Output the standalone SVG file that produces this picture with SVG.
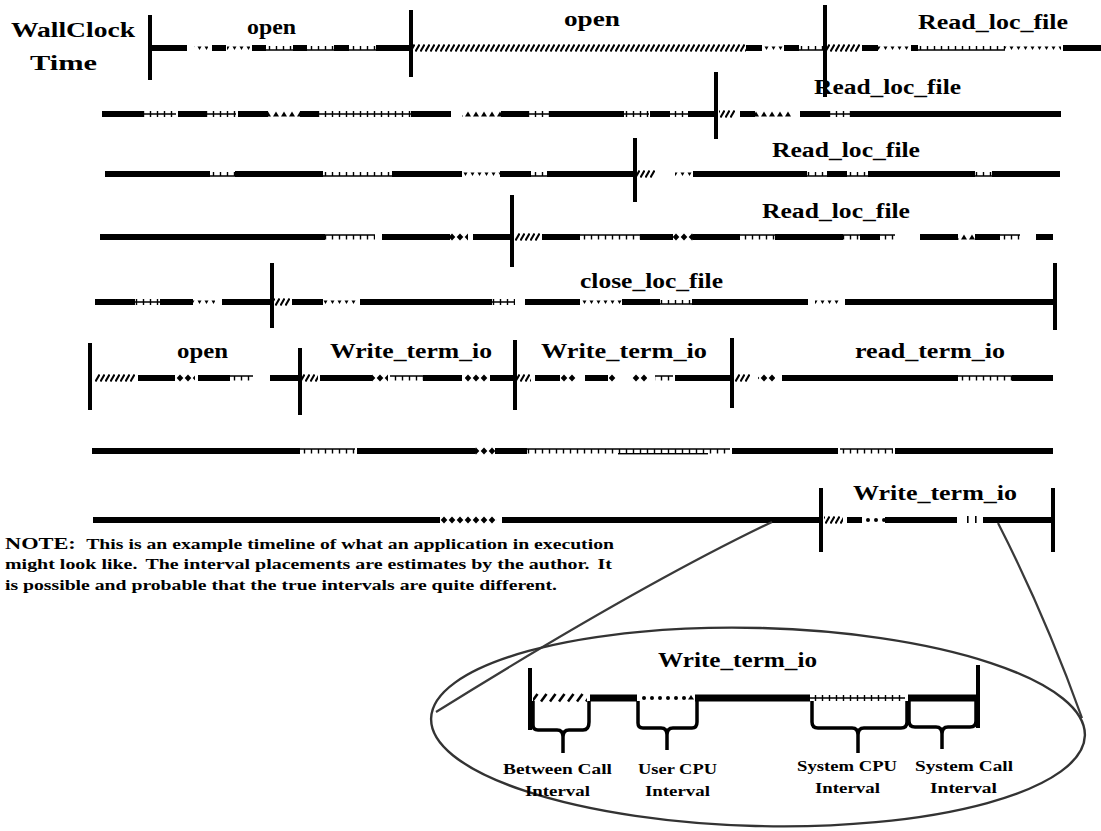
<svg xmlns="http://www.w3.org/2000/svg" width="1101" height="831" viewBox="0 0 1101 831">
<style>
.lab{font-family:"Liberation Serif","Times New Roman",serif;font-weight:bold;font-size:20px;fill:#000}
.sm{font-family:"Liberation Serif","Times New Roman",serif;font-weight:bold;font-size:15px;fill:#000}
.k,.b{fill:#000}
.h{fill:url(#ph)}.H{fill:url(#pH)}.p{fill:url(#pp)}.u{fill:url(#pu)}.T{fill:url(#pT)}
.d{fill:url(#pd)}.m{fill:url(#pm)}.t{fill:url(#pt)}.c{fill:url(#pc)}
.brace{fill:none;stroke:#000;stroke-width:3.5;stroke-linejoin:round}
.conn{fill:none;stroke:#3a3a3a;stroke-width:2.2}
</style>
<defs>
<pattern id="ph" patternUnits="userSpaceOnUse" x="0" y="-6" width="5" height="12"><path d="M0.5,9.5L4.5,2.5" stroke="#000" stroke-width="2"/></pattern>
<pattern id="pH" patternUnits="userSpaceOnUse" x="0" y="-6" width="9" height="12"><path d="M1,9.5L6.5,2" stroke="#000" stroke-width="2.6"/></pattern>
<pattern id="pp" patternUnits="userSpaceOnUse" x="0" y="-6" width="7" height="12"><path d="M0,6H7M3.5,3V9" stroke="#000" stroke-width="1.4"/></pattern>
<pattern id="pu" patternUnits="userSpaceOnUse" x="0" y="-6" width="7" height="12"><path d="M0,8H7M3.5,4V8" stroke="#000" stroke-width="1.4"/></pattern>
<pattern id="pT" patternUnits="userSpaceOnUse" x="0" y="-6" width="7" height="12"><path d="M0,4H7M3.5,4V8.5" stroke="#000" stroke-width="1.4"/></pattern>
<pattern id="pd" patternUnits="userSpaceOnUse" x="0" y="-6" width="7" height="12"><path d="M1.5,4.5H5.5L3.5,8Z" fill="#000"/></pattern>
<pattern id="pm" patternUnits="userSpaceOnUse" x="0" y="-6" width="8" height="12"><path d="M4,2.5L7.3,6L4,9.5L0.7,6Z" fill="#000"/></pattern>
<pattern id="pt" patternUnits="userSpaceOnUse" x="0" y="-6" width="8" height="12"><path d="M1,8.5H7L4,3.5Z" fill="#000"/></pattern>
<pattern id="pc" patternUnits="userSpaceOnUse" x="0" y="-6" width="8" height="12"><circle cx="4" cy="6" r="2" fill="#000"/></pattern>
</defs>

<g id="axis-label">
<text class="lab" x="11" y="37" textLength="124" lengthAdjust="spacingAndGlyphs">WallClock</text>
<text class="lab" x="30" y="70" textLength="67" lengthAdjust="spacingAndGlyphs">Time</text>
</g>

<g id="row1">
<g transform="translate(0,48)">
<rect class="b" x="148" y="-33" width="4" height="65"/>
<rect class="b" x="409" y="-38" width="4" height="67"/>
<rect class="b" x="823" y="-43" width="4" height="92"/>
<rect class="k" x="152" y="-3" width="35" height="6"/>
<rect class="d" x="194" y="-6" width="14" height="12"/>
<rect class="k" x="212" y="-3" width="14" height="6"/>
<rect class="d" x="227" y="-6" width="23" height="12"/>
<rect class="k" x="252" y="-3" width="14" height="6"/>
<rect class="u" x="266" y="-6" width="27" height="12"/>
<rect class="k" x="293" y="-3" width="14" height="6"/>
<rect class="u" x="307" y="-6" width="27" height="12"/>
<rect class="k" x="334" y="-3" width="15" height="6"/>
<rect class="u" x="349" y="-6" width="27" height="12"/>
<rect class="k" x="376" y="-3" width="33" height="6"/>
<rect class="h" x="413" y="-6" width="333" height="12"/>
<rect class="k" x="746" y="-3" width="16" height="6"/>
<rect class="d" x="762" y="-6" width="21" height="12"/>
<rect class="k" x="784" y="-3" width="15" height="6"/>
<rect class="u" x="799" y="-6" width="24" height="12"/>
<rect class="h" x="827" y="-6" width="33" height="12"/>
<rect class="k" x="862" y="-3" width="16" height="6"/>
<rect class="d" x="878" y="-6" width="32" height="12"/>
<rect class="k" x="911" y="-3" width="7" height="6"/>
<rect class="u" x="918" y="-6" width="87" height="12"/>
<rect class="d" x="1005" y="-6" width="56" height="12"/>
<rect class="k" x="1063" y="-3" width="38" height="6"/>
</g>
<text class="lab" x="247" y="34" textLength="49" lengthAdjust="spacingAndGlyphs">open</text>
<text class="lab" x="564" y="26" textLength="56" lengthAdjust="spacingAndGlyphs">open</text>
<text class="lab" x="918" y="29" textLength="150" lengthAdjust="spacingAndGlyphs">Read_loc_file</text>
</g>

<g id="row2">
<g transform="translate(0,114)">
<rect class="k" x="102" y="-3" width="41" height="6"/>
<rect class="p" x="143" y="-6" width="33" height="12"/>
<rect class="k" x="178" y="-3" width="28" height="6"/>
<rect class="p" x="206" y="-6" width="30" height="12"/>
<rect class="k" x="238" y="-3" width="30" height="6"/>
<rect class="t" x="268" y="-6" width="32" height="12"/>
<rect class="k" x="300" y="-3" width="19" height="6"/>
<rect class="p" x="319" y="-6" width="92" height="12"/>
<rect class="k" x="411" y="-3" width="40" height="6"/>
<rect class="t" x="462" y="-6" width="39" height="12"/>
<rect class="k" x="501" y="-3" width="28" height="6"/>
<rect class="p" x="529" y="-6" width="21" height="12"/>
<rect class="k" x="550" y="-3" width="74" height="6"/>
<rect class="p" x="624" y="-6" width="25" height="12"/>
<rect class="k" x="650" y="-3" width="20" height="6"/>
<rect class="p" x="670" y="-6" width="18" height="12"/>
<rect class="k" x="688" y="-3" width="26" height="6"/>
<rect class="b" x="714" y="-42" width="4" height="67"/>
<rect class="h" x="719" y="-6" width="16" height="12"/>
<rect class="k" x="740" y="-3" width="15" height="6"/>
<rect class="t" x="755" y="-6" width="38" height="12"/>
<rect class="k" x="800" y="-3" width="29" height="6"/>
<rect class="p" x="829" y="-6" width="21" height="12"/>
<rect class="k" x="850" y="-3" width="211" height="6"/>
</g>
<text class="lab" x="814" y="94" textLength="147" lengthAdjust="spacingAndGlyphs">Read_loc_file</text>
</g>

<g id="row3">
<g transform="translate(0,174)">
<rect class="k" x="105" y="-3" width="105" height="6"/>
<rect class="u" x="210" y="-6" width="25" height="12"/>
<rect class="k" x="235" y="-3" width="88" height="6"/>
<rect class="u" x="323" y="-6" width="69" height="12"/>
<rect class="k" x="392" y="-3" width="70" height="6"/>
<rect class="d" x="462" y="-6" width="38" height="12"/>
<rect class="k" x="500" y="-3" width="31" height="6"/>
<rect class="u" x="531" y="-6" width="16" height="12"/>
<rect class="k" x="547" y="-3" width="86" height="6"/>
<rect class="b" x="633" y="-36" width="4" height="64"/>
<rect class="h" x="637" y="-6" width="18" height="12"/>
<rect class="d" x="675" y="-6" width="18" height="12"/>
<rect class="k" x="693" y="-3" width="114" height="6"/>
<rect class="u" x="807" y="-6" width="20" height="12"/>
<rect class="k" x="827" y="-3" width="20" height="6"/>
<rect class="u" x="847" y="-6" width="21" height="12"/>
<rect class="k" x="868" y="-3" width="107" height="6"/>
<rect class="u" x="975" y="-6" width="17" height="12"/>
<rect class="k" x="992" y="-3" width="68" height="6"/>
</g>
<text class="lab" x="772" y="157" textLength="148" lengthAdjust="spacingAndGlyphs">Read_loc_file</text>
</g>

<g id="row4">
<g transform="translate(0,237)">
<rect class="k" x="100" y="-3" width="225" height="6"/>
<rect class="T" x="325" y="-6" width="50" height="12"/>
<rect class="k" x="382" y="-3" width="68" height="6"/>
<rect class="m" x="450" y="-6" width="18" height="12"/>
<rect class="k" x="473" y="-3" width="37" height="6"/>
<rect class="b" x="510" y="-42" width="4" height="72"/>
<rect class="h" x="515" y="-6" width="25" height="12"/>
<rect class="k" x="542" y="-3" width="38" height="6"/>
<rect class="T" x="580" y="-6" width="60" height="12"/>
<rect class="k" x="640" y="-3" width="33" height="6"/>
<rect class="m" x="673" y="-6" width="20" height="12"/>
<rect class="k" x="693" y="-3" width="47" height="6"/>
<rect class="T" x="740" y="-6" width="35" height="12"/>
<rect class="k" x="775" y="-3" width="68" height="6"/>
<rect class="T" x="843" y="-6" width="17" height="12"/>
<rect class="k" x="860" y="-3" width="20" height="6"/>
<rect class="T" x="880" y="-6" width="15" height="12"/>
<rect class="k" x="920" y="-3" width="38" height="6"/>
<rect class="t" x="958" y="-6" width="17" height="12"/>
<rect class="k" x="975" y="-3" width="25" height="6"/>
<rect class="T" x="1000" y="-6" width="20" height="12"/>
<rect class="k" x="1036" y="-3" width="17" height="6"/>
</g>
<text class="lab" x="762" y="218" textLength="148" lengthAdjust="spacingAndGlyphs">Read_loc_file</text>
</g>

<g id="row5">
<g transform="translate(0,302)">
<rect class="k" x="95" y="-3" width="40" height="6"/>
<rect class="p" x="135" y="-6" width="25" height="12"/>
<rect class="k" x="160" y="-3" width="33" height="6"/>
<rect class="d" x="193" y="-6" width="22" height="12"/>
<rect class="k" x="222" y="-3" width="48" height="6"/>
<rect class="b" x="270" y="-39" width="4" height="65"/>
<rect class="h" x="274" y="-6" width="16" height="12"/>
<rect class="k" x="292" y="-3" width="31" height="6"/>
<rect class="d" x="323" y="-6" width="34" height="12"/>
<rect class="k" x="360" y="-3" width="132" height="6"/>
<rect class="p" x="492" y="-6" width="23" height="12"/>
<rect class="k" x="525" y="-3" width="55" height="6"/>
<rect class="d" x="580" y="-6" width="42" height="12"/>
<rect class="k" x="622" y="-3" width="38" height="6"/>
<rect class="u" x="660" y="-6" width="32" height="12"/>
<rect class="k" x="692" y="-3" width="116" height="6"/>
<rect class="d" x="815" y="-6" width="25" height="12"/>
<rect class="k" x="845" y="-3" width="208" height="6"/>
<rect class="b" x="1053" y="-39" width="4" height="67"/>
</g>
<text class="lab" x="580" y="288" textLength="143" lengthAdjust="spacingAndGlyphs">close_loc_file</text>
</g>

<g id="row6">
<g transform="translate(0,378)">
<rect class="b" x="88" y="-35" width="4" height="67"/>
<rect class="h" x="95" y="-6" width="40" height="12"/>
<rect class="k" x="138" y="-3" width="37" height="6"/>
<rect class="m" x="175" y="-6" width="20" height="12"/>
<rect class="k" x="198" y="-3" width="32" height="6"/>
<rect class="T" x="230" y="-6" width="23" height="12"/>
<rect class="k" x="270" y="-3" width="28" height="6"/>
<rect class="b" x="298" y="-30" width="4" height="67"/>
<rect class="h" x="302" y="-6" width="16" height="12"/>
<rect class="k" x="320" y="-3" width="52" height="6"/>
<rect class="m" x="372" y="-6" width="16" height="12"/>
<rect class="T" x="390" y="-6" width="33" height="12"/>
<rect class="k" x="423" y="-3" width="39" height="6"/>
<rect class="m" x="465" y="-6" width="23" height="12"/>
<rect class="k" x="490" y="-3" width="23" height="6"/>
<rect class="b" x="513" y="-38" width="4" height="70"/>
<rect class="h" x="517" y="-6" width="14" height="12"/>
<rect class="k" x="535" y="-3" width="25" height="6"/>
<rect class="m" x="560" y="-6" width="16" height="12"/>
<rect class="k" x="585" y="-3" width="23" height="6"/>
<rect class="m" x="609" y="-6" width="7" height="12"/>
<rect class="m" x="632" y="-6" width="15" height="12"/>
<rect class="T" x="655" y="-6" width="18" height="12"/>
<rect class="k" x="675" y="-3" width="55" height="6"/>
<rect class="b" x="730" y="-40" width="4" height="70"/>
<rect class="h" x="735" y="-6" width="15" height="12"/>
<rect class="m" x="758" y="-6" width="17" height="12"/>
<rect class="k" x="782" y="-3" width="176" height="6"/>
<rect class="T" x="958" y="-6" width="54" height="12"/>
<rect class="k" x="1012" y="-3" width="41" height="6"/>
</g>
<text class="lab" x="177" y="358" textLength="51" lengthAdjust="spacingAndGlyphs">open</text>
<text class="lab" x="330" y="358" textLength="162" lengthAdjust="spacingAndGlyphs">Write_term_io</text>
<text class="lab" x="541" y="358" textLength="166" lengthAdjust="spacingAndGlyphs">Write_term_io</text>
<text class="lab" x="855" y="358" textLength="150" lengthAdjust="spacingAndGlyphs">read_term_io</text>
</g>

<g id="row7">
<g transform="translate(0,451)">
<rect class="k" x="92" y="-3" width="208" height="6"/>
<rect class="T" x="300" y="-6" width="55" height="12"/>
<rect class="k" x="357" y="-3" width="118" height="6"/>
<rect class="m" x="475" y="-6" width="20" height="12"/>
<rect class="k" x="495" y="-3" width="32" height="6"/>
<rect class="T" x="527" y="-6" width="91" height="12"/>
<rect class="T" x="618" y="-6" width="90" height="12"/>
<rect class="k" x="618" y="2" width="90" height="1.4"/>
<rect class="T" x="708" y="-6" width="22" height="12"/>
<rect class="k" x="732" y="-3" width="106" height="6"/>
<rect class="T" x="840" y="-6" width="53" height="12"/>
<rect class="k" x="895" y="-3" width="158" height="6"/>
</g>
</g>

<g id="row8">
<g transform="translate(0,520)">
<rect class="k" x="93" y="-3" width="347" height="6"/>
<rect class="m" x="440" y="-6" width="57" height="12"/>
<rect class="k" x="502" y="-3" width="317" height="6"/>
<rect class="b" x="819" y="-32" width="4" height="64"/>
<rect class="h" x="824" y="-6" width="19" height="12"/>
<rect class="k" x="847" y="-3" width="15" height="6"/>
<rect class="c" x="862" y="-6" width="23" height="12"/>
<rect class="k" x="885" y="-3" width="72" height="6"/>
<rect class="k" x="967" y="-4" width="1.6" height="7"/>
<rect class="k" x="975" y="-4" width="1.6" height="7"/>
<rect class="k" x="983" y="-3" width="68" height="6"/>
<rect class="b" x="1051" y="-32" width="4" height="64"/>
</g>
<text class="lab" x="853" y="500" textLength="164" lengthAdjust="spacingAndGlyphs">Write_term_io</text>
</g>

<g id="note">
<text class="sm" x="5" y="549" textLength="609" lengthAdjust="spacingAndGlyphs"><tspan font-size="17">NOTE:</tspan><tspan dx="8">This is an example timeline of what an application in execution</tspan></text>
<text class="sm" x="5" y="569" textLength="607" lengthAdjust="spacingAndGlyphs">might look like.<tspan dx="6">The interval placements are estimates by the author.</tspan><tspan dx="6">It</tspan></text>
<text class="sm" x="5" y="590" textLength="552" lengthAdjust="spacingAndGlyphs">is possible and probable that the true intervals are quite different.</text>
</g>

<g id="connectors">
<path class="conn" d="M772,522 Q640,585 436,712"/>
<path class="conn" d="M998,523 Q1045,615 1082,718"/>
</g>

<g id="detail">
<ellipse cx="758" cy="727" rx="327" ry="99" transform="rotate(1.5 758 727)" fill="none" stroke="#333" stroke-width="2.4"/>
<text class="lab" x="658" y="667" textLength="159" lengthAdjust="spacingAndGlyphs">Write_term_io</text>
<g transform="translate(0,698)">
<rect class="b" x="528" y="-30" width="4" height="62"/>
<rect class="H" x="533" y="-6" width="54" height="12"/>
<rect class="k" x="590" y="-3.5" width="47" height="7"/>
<rect class="c" x="638" y="-6" width="50" height="12"/>
<path d="M688,1.5H694L691,-3Z" fill="#000"/>
<rect class="k" x="695" y="-3.5" width="115" height="7"/>
<rect class="p" x="810" y="-6" width="95" height="12"/>
<rect class="k" x="908" y="-3.5" width="68" height="7"/>
<rect class="b" x="976" y="-33" width="4" height="63"/>
</g>
<path class="brace" d="M533,701V725Q533,730 538,730H557Q563,730 563,737V753M563,737Q563,730 569,730H583Q589,730 589,722V701"/>
<path class="brace" d="M638,701V723Q638,728 643,728H661Q667,728 667,735V750M667,735Q667,728 673,728H692Q697,728 697,722V701"/>
<path class="brace" d="M812,701V722Q812,728 818,728H852Q858,728 858,735V753M858,735Q858,728 864,728H901Q907,728 907,722V701"/>
<path class="brace" d="M909,701V721Q909,727 915,727H936Q942,727 942,734V749M942,734Q942,727 948,727H970Q976,727 976,721V701"/>
<text class="sm" x="503" y="774" textLength="109" lengthAdjust="spacingAndGlyphs">Between Call</text>
<text class="sm" x="525" y="796" textLength="65" lengthAdjust="spacingAndGlyphs">Interval</text>
<text class="sm" x="638" y="774" textLength="79" lengthAdjust="spacingAndGlyphs">User CPU</text>
<text class="sm" x="645" y="796" textLength="65" lengthAdjust="spacingAndGlyphs">Interval</text>
<text class="sm" x="797" y="771" textLength="100" lengthAdjust="spacingAndGlyphs">System CPU</text>
<text class="sm" x="815" y="793" textLength="65" lengthAdjust="spacingAndGlyphs">Interval</text>
<text class="sm" x="915" y="771" textLength="98" lengthAdjust="spacingAndGlyphs">System Call</text>
<text class="sm" x="930" y="793" textLength="67" lengthAdjust="spacingAndGlyphs">Interval</text>
</g>
</svg>
